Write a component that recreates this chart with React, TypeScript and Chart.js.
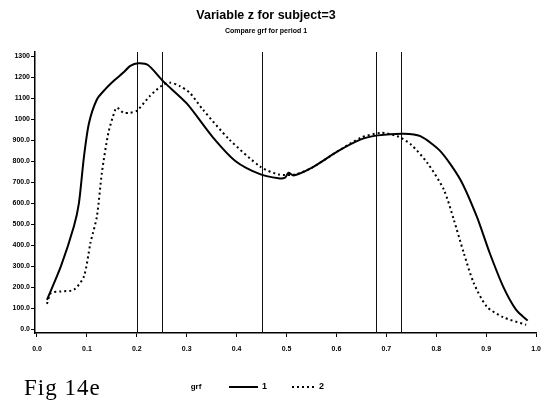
import { useEffect, useRef } from "react";
import { Chart, registerables } from "chart.js";

Chart.register(...registerables);

const titleText = "Variable z for subject=3";
const subtitleText = "Compare grf for period 1";
const legendTitle = "grf";
const seriesLabels = ["1", "2"];
const figCaption = "Fig 14e";

const xTicks = [0, 0.1, 0.2, 0.3, 0.4, 0.5, 0.6, 0.7, 0.8, 0.9, 1.0];
const yTicks = [0, 100, 200, 300, 400, 500, 600, 700, 800, 900, 1000, 1100, 1200, 1300];
const refLines = [0.2, 0.25, 0.45, 0.68, 0.73];

const grf1X = [0.02, 0.048, 0.074, 0.084, 0.094, 0.104, 0.12, 0.137, 0.155, 0.173, 0.187, 0.203, 0.223, 0.253, 0.3, 0.352, 0.398, 0.448, 0.484, 0.497, 0.504, 0.514, 0.55, 0.603, 0.649, 0.683, 0.735, 0.768, 0.808, 0.848, 0.881, 0.907, 0.934, 0.96, 0.983];
const grf1Y = [140, 300, 490, 600, 820, 980, 1094, 1143, 1185, 1222, 1254, 1266, 1257, 1180, 1075, 915, 800, 737, 719, 722, 745, 732, 768, 848, 904, 923, 931, 919, 848, 713, 537, 363, 203, 92, 41];

const grf2X = [0.02, 0.028, 0.048, 0.074, 0.094, 0.107, 0.12, 0.13, 0.143, 0.157, 0.161, 0.173, 0.187, 0.2, 0.226, 0.249, 0.266, 0.286, 0.306, 0.332, 0.385, 0.448, 0.484, 0.517, 0.55, 0.603, 0.649, 0.689, 0.722, 0.749, 0.782, 0.815, 0.835, 0.855, 0.875, 0.901, 0.934, 0.98];
const grf2Y = [121, 172, 180, 188, 251, 410, 537, 745, 935, 1047, 1055, 1031, 1031, 1040, 1110, 1158, 1174, 1158, 1126, 1047, 904, 773, 737, 737, 768, 848, 912, 935, 919, 880, 792, 665, 522, 363, 220, 108, 57, 21];

const toPoints = (xs: number[], ys: number[]) => xs.map((x, i) => ({ x, y: ys[i] }));

const SANS = "'Liberation Sans', Arial, sans-serif";

const refLinePlugin = {
  id: "refLines",
  beforeDatasetsDraw(chart: any) {
    const { ctx, chartArea, scales } = chart;
    ctx.save();
    ctx.strokeStyle = "#111";
    ctx.lineWidth = 1;
    refLines.forEach((v) => {
      const px = Math.round(scales.x.getPixelForValue(v)) + 0.5;
      ctx.beginPath();
      ctx.moveTo(px, chartArea.top);
      ctx.lineTo(px, chartArea.bottom);
      ctx.stroke();
    });
    ctx.restore();
  },
};

const textPlugin = {
  id: "texts",
  afterDraw(chart: any) {
    const { ctx } = chart;
    ctx.save();
    ctx.fillStyle = "#000";
    ctx.textAlign = "center";
    ctx.textBaseline = "middle";
    ctx.font = `bold 12.5px ${SANS}`;
    ctx.fillText(titleText, 266, 16);
    ctx.font = `bold 7px ${SANS}`;
    ctx.fillText(subtitleText, 266, 31);

    // legend
    const ly = 387;
    ctx.font = `bold 8px ${SANS}`;
    ctx.fillText(legendTitle, 196, ly);
    ctx.strokeStyle = "#000";
    ctx.lineWidth = 2;
    ctx.beginPath();
    ctx.moveTo(229, ly);
    ctx.lineTo(258, ly);
    ctx.stroke();
    ctx.font = `bold 9px ${SANS}`;
    ctx.textAlign = "left";
    ctx.fillText(seriesLabels[0], 262, ly);
    ctx.setLineDash([2, 3]);
    ctx.beginPath();
    ctx.moveTo(292, ly);
    ctx.lineTo(314, ly);
    ctx.stroke();
    ctx.setLineDash([]);
    ctx.fillText(seriesLabels[1], 319, ly);

    ctx.font = `23px 'Liberation Serif', 'Times New Roman', serif`;
    ctx.textAlign = "left";
    try {
      (ctx as any).letterSpacing = "1px";
    } catch (e) {}
    ctx.fillText(figCaption, 24, 389);
    ctx.restore();
  },
};

export default function App() {
  const ref = useRef<HTMLCanvasElement | null>(null);
  useEffect(() => {
    if (!ref.current) return;
    const chart = new Chart(ref.current, {
      type: "scatter",
      data: {
        datasets: [
          {
            label: seriesLabels[0],
            data: toPoints(grf1X, grf1Y),
            showLine: true,
            borderColor: "#000",
            borderWidth: 2,
            pointRadius: 0,
            tension: 0.25,
            fill: false,
          },
          {
            label: seriesLabels[1],
            data: toPoints(grf2X, grf2Y),
            showLine: true,
            borderColor: "#000",
            borderWidth: 2,
            borderDash: [2, 3],
            pointRadius: 0,
            tension: 0.25,
            fill: false,
          },
        ],
      },
      options: {
        animation: false,
        responsive: false,
        devicePixelRatio: 1,
        layout: { padding: { top: 52, right: 8, bottom: 0, left: 0 } },
        plugins: {
          legend: { display: false },
          title: { display: false },
          tooltip: { enabled: false },
        },
        scales: {
          x: {
            type: "linear",
            min: -0.004,
            max: 1.0,
            afterBuildTicks: (s: any) => {
              s.ticks = xTicks.map((v) => ({ value: v }));
            },
            afterFit: (s: any) => {
              s.height = 74;
            },
            ticks: {
              callback: (v: any) => Number(v).toFixed(1),
              font: { size: 7, weight: "bold", family: SANS },
              color: "#000",
              padding: 8,
              maxRotation: 0,
              autoSkip: false,
            },
            grid: { drawOnChartArea: false, drawTicks: true, tickLength: 4, color: "#000", lineWidth: 1 },
            border: { display: true, color: "#000", width: 1.5 },
          },
          y: {
            type: "linear",
            min: -18,
            max: 1320,
            afterBuildTicks: (s: any) => {
              s.ticks = yTicks.map((v) => ({ value: v }));
            },
            afterFit: (s: any) => {
              s.width = 35;
            },
            ticks: {
              callback: (v: any) => (Number(v) >= 1000 ? String(v) : Number(v).toFixed(1)),
              font: { size: 7, weight: "bold", family: SANS },
              color: "#000",
              padding: 1,
              autoSkip: false,
            },
            grid: { drawOnChartArea: false, drawTicks: true, tickLength: 4, color: "#000", lineWidth: 1 },
            border: { display: true, color: "#000", width: 1.5 },
          },
        },
      },
      plugins: [refLinePlugin, textPlugin],
    });
    return () => chart.destroy();
  }, []);

  return (
    <div style={{ position: "fixed", left: 0, top: 0, width: 549, height: 407, background: "#fff" }}>
      <canvas ref={ref} width={549} height={407} style={{ display: "block" }} />
    </div>
  );
}
